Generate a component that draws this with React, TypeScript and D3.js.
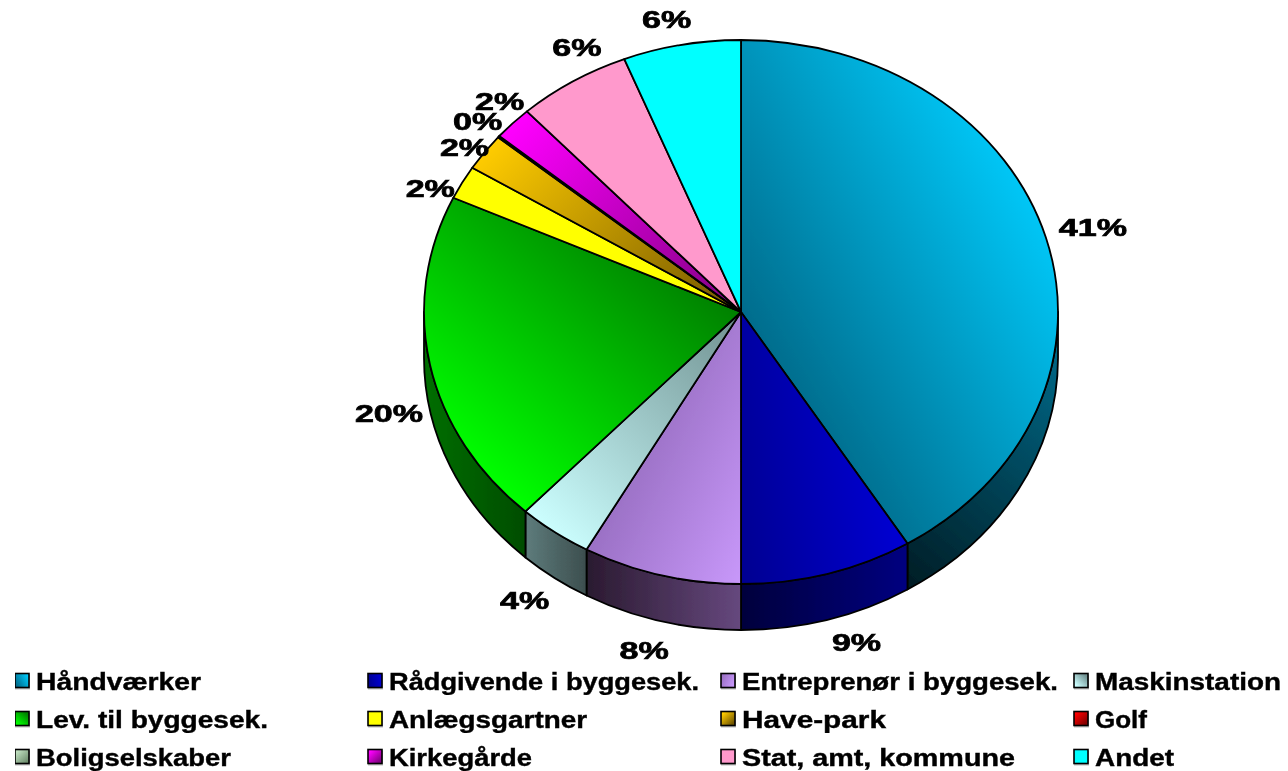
import React from 'react';
import * as d3 from 'd3';

const categories = ['Håndværker', 'Rådgivende i byggesek.', 'Entreprenør i byggesek.', 'Maskinstation', 'Lev. til byggesek.', 'Anlægsgartner', 'Have-park', 'Golf', 'Boligselskaber', 'Kirkegårde', 'Stat, amt, kommune', 'Andet'];
const shares = [41.2, 8.8, 8.1, 3.8, 20.0, 2.0, 2.2, 0.1, 0, 2.0, 5.8, 6.0];
const shownLabels = ['41%', '9%', '8%', '4%', '20%', '2%', '2%', '0%', '', '2%', '6%', '6%'];

// dark end / light end of every slice
const darkColors = ['#006c8c', '#000090', '#9a70c4', '#6f8f8f', '#008000', '#ffff00', '#705400', '#800000', '#709070', '#800080', '#ff99cc', '#00ffff'];
const lightColors = ['#00c6f6', '#0000d4', '#c898fa', '#ccffff', '#00ff00', '#ffff00', '#ffcc00', '#ff0000', '#c0e0c0', '#ff00ff', '#ff99cc', '#00ffff'];
const wallDark = ['#001c24', '#00003c', '#2a1a30', '#3c4e4e', '#004d00', '#808000', '#403000', '#400000', '#405040', '#400040', '#804c66', '#008080'];
const wallLight = ['#006f90', '#000080', '#66487e', '#5e7c7c', '#006e00', '#808000', '#806000', '#800000', '#608060', '#800080', '#804c66', '#008080'];

// gradient direction of each slice, degrees, 0 = pointing right, 90 = pointing down
const topDirection = [-30, -10, 25, 135, 130, 0, -135, -135, -135, -135, 0, 0];
const wallDirection = [-50, 0, 0, 180, 180, 0, 0, 0, 0, 0, 0, 0];

// nudges of the percent labels from the pie rim
const labelNudge: [number, number][] = [[47, -10], [29, 23], [-17, 29], [-30, 22], [-41, 3], [-32, 6], [-20, -5], [-21, -15], [0, 0], [-13, -22], [4, -34], [-15, -25]];
// the legend text is stretched, these are its drawn widths
const legendWidths = [165, 310, 316, 186, 232, 198, 144, 52, 195, 143, 273, 79];

const cx = 741;
const cy = 312;
const rx = 317;
const ry = 272;
const depth = 46;

const pt = (a: number, dy = 0): [number, number] => [cx + rx * Math.sin(a), cy - ry * Math.cos(a) + dy];

const rimArc = (a0: number, a1: number, dy = 0) => {
  const [x, y] = pt(a1, dy);
  const large = Math.abs(a1 - a0) > Math.PI ? 1 : 0;
  return `A${rx},${ry} 0 ${large} ${a1 > a0 ? 1 : 0} ${x},${y}`;
};

// ramp runs over the projection of the shape on the direction
const gradientEnds = (angle: number, pts: [number, number][]) => {
  const t = (angle * Math.PI) / 180;
  const c = Math.cos(t);
  const s = Math.sin(t);
  const proj = pts.map((p) => p[0] * c + p[1] * s);
  const lo = d3.min(proj)!;
  const hi = d3.max(proj)!;
  const px = pts[0][0] * c + pts[0][1] * s;
  return {
    x1: pts[0][0] + c * (lo - px),
    y1: pts[0][1] + s * (lo - px),
    x2: pts[0][0] + c * (hi - px),
    y2: pts[0][1] + s * (hi - px),
  };
};

const App = () => {
  const pie = d3.pie<number>().sort(null).value((d) => d);
  const slices = pie(shares);
  const column = d3.scalePoint<number>().domain([0, 1, 2, 3]).range([15.5, 1074.5]);
  const row = d3.scalePoint<number>().domain([0, 1, 2]).range([681, 757]);
  const font = '"Liberation Sans", Arial, sans-serif';

  return (
    <svg width={1288} height={771} style={{ position: 'absolute', left: 0, top: 0 }} fontFamily={font} fontWeight="bold">
      <defs>
        <filter id="soft" x="0" y="0" width="100%" height="100%">
          <feGaussianBlur stdDeviation="0.4" />
        </filter>
        {slices.map((s, i) => {
          const pts: [number, number][] = [[cx, cy], ...d3.range(0, 21).map((k) => pt(s.startAngle + ((s.endAngle - s.startAngle) * k) / 20))];
          return (
            <linearGradient key={i} id={`top${i}`} gradientUnits="userSpaceOnUse" {...gradientEnds(topDirection[i], pts)}>
              <stop offset="0" stopColor={darkColors[i]} />
              <stop offset="1" stopColor={lightColors[i]} />
            </linearGradient>
          );
        })}
        {slices.map((s, i) => {
          const a0 = Math.max(s.startAngle, Math.PI / 2);
          const a1 = Math.min(s.endAngle, (3 * Math.PI) / 2);
          if (a1 <= a0) return null;
          const pts = d3.range(0, 21).flatMap((k) => {
            const a = a0 + ((a1 - a0) * k) / 20;
            return [pt(a), pt(a, depth)];
          });
          return (
            <linearGradient key={i} id={`wall${i}`} gradientUnits="userSpaceOnUse" {...gradientEnds(wallDirection[i], pts)}>
              <stop offset="0" stopColor={wallDark[i]} />
              <stop offset="1" stopColor={wallLight[i]} />
            </linearGradient>
          );
        })}
        {categories.map((_, i) => {
          const t = (topDirection[i] * Math.PI) / 180;
          return (
            <linearGradient key={i} id={`key${i}`} x1={0.5 - Math.cos(t) / 2} y1={0.5 - Math.sin(t) / 2} x2={0.5 + Math.cos(t) / 2} y2={0.5 + Math.sin(t) / 2}>
              <stop offset="0" stopColor={darkColors[i]} />
              <stop offset="1" stopColor={lightColors[i]} />
            </linearGradient>
          );
        })}
      </defs>

      <g filter="url(#soft)">
        {/* side wall, only the front half of the rim */}
        {slices.map((s, i) => {
          const a0 = Math.max(s.startAngle, Math.PI / 2);
          const a1 = Math.min(s.endAngle, (3 * Math.PI) / 2);
          if (a1 <= a0) return null;
          const [x0, y0] = pt(a0);
          const [x1, y1] = pt(a1, depth);
          return (
            <path
              key={i}
              d={`M${x0},${y0} ${rimArc(a0, a1)} L${x1},${y1} ${rimArc(a1, a0, depth)} Z`}
              fill={`url(#wall${i})`}
              stroke="#000"
              strokeWidth={1.8}
              strokeLinejoin="round"
            />
          );
        })}

        {slices.map((s, i) => {
          const [x0, y0] = pt(s.startAngle);
          return (
            <path
              key={i}
              d={`M${cx},${cy} L${x0},${y0} ${rimArc(s.startAngle, s.endAngle)} Z`}
              fill={`url(#top${i})`}
              stroke="#000"
              strokeWidth={1.8}
              strokeLinejoin="round"
            />
          );
        })}

        {slices.map((s, i) => {
          if (!shownLabels[i]) return null;
          const mid = (s.startAngle + s.endAngle) / 2;
          const front = mid > Math.PI / 2 && mid < (3 * Math.PI) / 2;
          const [x, y] = pt(mid, front ? depth : 0);
          const [nx, ny] = labelNudge[i];
          return (
            <text
              key={i}
              transform={`translate(${x + nx},${y + ny + 8.5}) scale(1.42,1)`}
              textAnchor="middle"
              fontSize={24}
              fill="#000"
              stroke="#000"
              strokeWidth={0.7}
            >
              {shownLabels[i]}
            </text>
          );
        })}

        {categories.map((name, i) => {
          const x = column(i % 4)!;
          const y = row(Math.floor(i / 4))!;
          return (
            <g key={name} transform={`translate(${x},${y})`}>
              <rect x={-0.5} y={-6.5} width={15} height={15} fill="#bbb" />
              <rect x={-0.5} y={-7.5} width={14} height={14} fill={`url(#key${i})`} stroke="#000" strokeWidth={1.6} />
              <text x={20.5} y={8.5} fontSize={24} fill="#000" stroke="#000" strokeWidth={0.4} textLength={legendWidths[i]} lengthAdjust="spacingAndGlyphs">
                {name}
              </text>
            </g>
          );
        })}
      </g>
    </svg>
  );
};

export default App;
